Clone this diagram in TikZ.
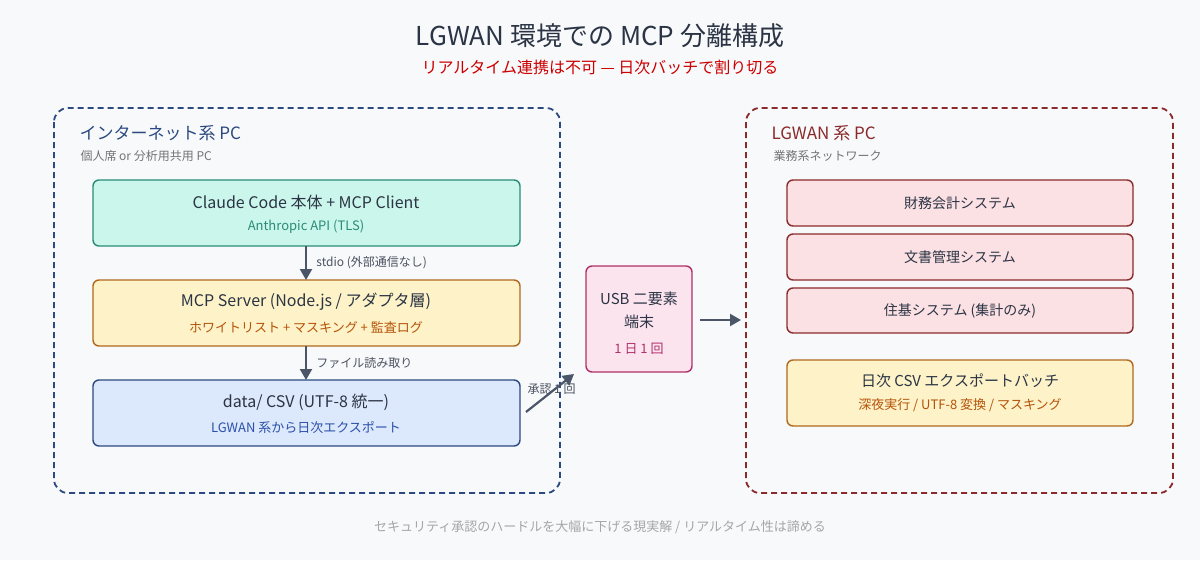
\documentclass[tikz,border=0pt]{standalone}
\usepackage{fontspec}
\setmainfont{Noto Sans CJK JP}
\usetikzlibrary{arrows.meta}
\definecolor{bg}{HTML}{F8F9FB}
\definecolor{ink}{HTML}{2B3444}
\definecolor{navy}{HTML}{2C4A80}
\definecolor{wine}{HTML}{8B2A2A}
\definecolor{arr}{HTML}{4A5568}
\definecolor{mintf}{HTML}{CBF6EC}
\definecolor{mintd}{HTML}{2A8C78}
\definecolor{yelf}{HTML}{FDF2C8}
\definecolor{yeld}{HTML}{B06A1E}
\definecolor{yelt}{HTML}{B45309}
\definecolor{bluf}{HTML}{DCE8FB}
\definecolor{blut}{HTML}{2B50AA}
\definecolor{redf}{HTML}{FCE1E4}
\definecolor{pinf}{HTML}{FCE4EF}
\definecolor{pind}{HTML}{B0306A}
\tikzset{
 x=1pt,y=-1pt,
 box/.style={rounded corners=6pt,line width=1.4pt},
 zone/.style={rounded corners=14pt,dash pattern=on 6pt off 4pt,line width=1.8pt},
 conn/.style={-{Triangle[length=11pt,width=12pt]},line width=2.2pt,draw=arr},
 lbl/.style={font=\fontsize{12}{14}\selectfont,text=ink!85},
}
\begin{document}
\begin{tikzpicture}
\fill[bg] (0,0) rectangle (1200,560);
\useasboundingbox (0,0) rectangle (1200,560);
\node (title) at (600,36) {\fontsize{26}{30}\selectfont\color{ink}LGWAN 環境での MCP 分離構成};
\node (sub) at (600,67) {\fontsize{16}{18}\selectfont\color{red!80!black}リアルタイム連携は不可 — 日次バッチで割り切る};
\node (foot) at (600,527) {\fontsize{13}{15}\selectfont\color{gray!70}セキュリティ承認のハードルを大幅に下げる現実解 / リアルタイム性は諦める};
\draw[zone,draw=navy] (54,108) rectangle (560,493);
\draw[zone,draw=wine] (746,108) rectangle (1173,493);
\node[anchor=west] (lt) at (76,133) {\fontsize{17}{20}\selectfont\color{navy}インターネット系 PC};
\node[anchor=west] (ls) at (77,156) {\fontsize{12}{14}\selectfont\color{gray!90!black}個人席 or 分析用共用 PC};
\node[anchor=west] (rt) at (768,133) {\fontsize{17}{20}\selectfont\color{wine}LGWAN 系 PC};
\node[anchor=west] (rs) at (770,156) {\fontsize{12}{14}\selectfont\color{gray!90!black}業務系ネットワーク};
\path[box,draw=mintd,fill=mintf] (93,180) rectangle (520,246);
\node (claude) at (306,202) {\fontsize{16}{19}\selectfont\color{ink}Claude Code 本体 + MCP Client};
\node at (306,227) {\fontsize{13}{15}\selectfont\color{mintd}Anthropic API (TLS)};
\path[box,draw=yeld,fill=yelf] (93,280) rectangle (520,346);
\node (mcp) at (306,302) {\fontsize{16}{19}\selectfont\color{ink}MCP Server (Node.js / アダプタ層)};
\node at (306,327) {\fontsize{13}{15}\selectfont\color{yelt}ホワイトリスト + マスキング + 監査ログ};
\path[box,draw=navy,fill=bluf] (93,380) rectangle (520,446);
\node (data) at (306,402) {\fontsize{16}{19}\selectfont\color{ink}data/ CSV (UTF-8 統一)};
\node at (306,427) {\fontsize{13}{15}\selectfont\color{blut}LGWAN 系から日次エクスポート};
\coordinate (c1) at (306,246); \coordinate (m1) at (306,280);
\coordinate (m2) at (306,346); \coordinate (d1) at (306,380);
\draw[conn] (c1) -- (m1) node[midway,right=6pt,lbl]{stdio (外部通信なし)};
\draw[conn] (m2) -- (d1) node[midway,right=6pt,lbl]{ファイル読み取り};
\path[box,draw=pind,fill=pinf] (586,266) rectangle (692,372);
\node (usb) at (639,299) {\fontsize{15}{18}\selectfont\color{ink}USB 二要素};
\node at (639,322) {\fontsize{15}{18}\selectfont\color{ink}端末};
\node at (639,349) {\fontsize{13}{15}\selectfont\color{pind}1 日 1 回};
\node[lbl,anchor=west] (appr) at (524,389) {承認 1 回};
\coordinate (da) at (526,412); \coordinate (ua) at (574,374);
\draw[conn] (da) -- (ua);
\coordinate (u2) at (700,320); \coordinate (l2) at (741,320);
\draw[conn] (u2) -- (l2);
\foreach \t/\a/\b in {財務会計システム/180/226,文書管理システム/234/280,住基システム (集計のみ)/288/333}{
 \path[box,draw=wine,fill=redf] (787,\a) rectangle (1133,\b);
 \node at (960,{(\a+\b)/2}) {\fontsize{14}{17}\selectfont\color{ink}\t};
}
\path[box,draw=yeld,fill=yelf] (787,360) rectangle (1133,426);
\node (batch) at (960,381) {\fontsize{15}{18}\selectfont\color{ink}日次 CSV エクスポートバッチ};
\node at (960,405) {\fontsize{13}{15}\selectfont\color{yelt}深夜実行 / UTF-8 変換 / マスキング};
\end{tikzpicture}
\end{document}
